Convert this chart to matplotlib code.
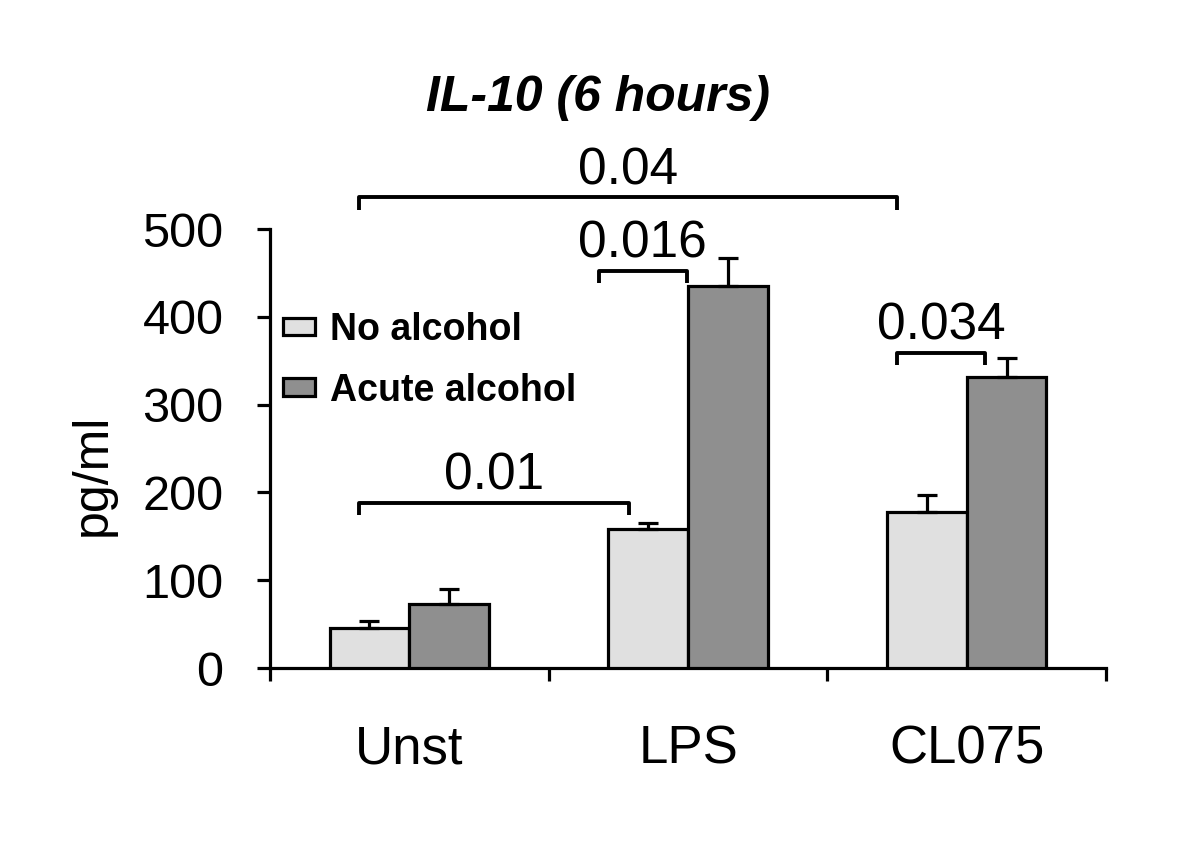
import numpy as np
import matplotlib.pyplot as plt
from matplotlib.patches import Patch

plt.rcParams["font.family"] = ["Liberation Sans", "DejaVu Sans"]

# ── Data ──────────────────────────────────────────────────────────────────────
categories = ["Unst", "LPS", "CL075"]
no_alcohol = [46, 158, 178]
no_alcohol_err = [8, 7, 19]
acute_alcohol = [73, 435, 331]
acute_alcohol_err = [17, 32, 22]

# significance brackets: (x start, x end, bracket top, label)
bracket_x0 = [-0.18, 0.68, 1.75, -0.18]
bracket_x1 = [1.75, 0.995, 2.065, 0.79]
bracket_y = [536, 452, 359, 188]
bracket_labels = ["0.04", "0.016", "0.034", "0.01"]

# ── Plot ──────────────────────────────────────────────────────────────────────
fig = plt.figure(figsize=(12, 8.58), dpi=100)
ax = fig.add_axes([0.225, 0.2214, 0.6967, 0.5117])

x = np.arange(len(categories))
w = 0.286
lw = 2.3
err_kw = dict(ecolor="black", elinewidth=lw, capthick=lw, capsize=7)

ax.bar(x - w / 2, no_alcohol, w, color="#e0e0e0", edgecolor="black",
       linewidth=lw, yerr=[np.zeros(3), no_alcohol_err], error_kw=err_kw,
       label="No alcohol", zorder=3)
ax.bar(x + w / 2, acute_alcohol, w, color="#8f8f8f", edgecolor="black",
       linewidth=lw, yerr=[np.zeros(3), acute_alcohol_err], error_kw=err_kw,
       label="Acute alcohol", zorder=3)

ax.set_xlim(-0.5, 2.5)
ax.set_ylim(0, 500)
ax.set_yticks(range(0, 501, 100))
ax.tick_params(axis="y", labelsize=35, width=lw, length=9.5, direction="out", pad=24)

ax.set_xticks(x)
ax.set_xticklabels(categories, fontsize=38)
ax.tick_params(axis="x", length=0, pad=41)
ax.set_xticks([-0.5, 0.5, 1.5, 2.5], minor=True)
ax.tick_params(axis="x", which="minor", width=lw, length=9.5, direction="out")

for side in ["top", "right"]:
    ax.spines[side].set_visible(False)
for side in ["left", "bottom"]:
    ax.spines[side].set_linewidth(lw)

ax.set_ylabel("pg/ml", fontsize=36)
ax.yaxis.set_label_coords(-0.184, 0.44)

# ── Brackets ──────────────────────────────────────────────────────────────────
drop = 14
for x0, x1, y, lab in zip(bracket_x0, bracket_x1, bracket_y, bracket_labels):
    ax.plot([x0, x0, x1, x1], [y - drop, y, y, y - drop], color="black",
            lw=lw + 0.5, solid_joinstyle="round", solid_capstyle="butt",
            clip_on=False, zorder=4)
    ax.text((x0 + x1) / 2, y + 15, lab, ha="center", va="baseline",
            fontsize=37, clip_on=False)

# ── Legend ────────────────────────────────────────────────────────────────────
handles = [Patch(facecolor="#e0e0e0", edgecolor="black", linewidth=lw),
           Patch(facecolor="#8f8f8f", edgecolor="black", linewidth=lw)]
leg = ax.legend(handles, ["No alcohol", "Acute alcohol"], loc="upper left",
                bbox_to_anchor=(-0.002, 0.845), frameon=False,
                prop=dict(size=27, weight="bold"), handlelength=0.85,
                handleheight=0.35, handletextpad=0.4, labelspacing=0.66,
                borderaxespad=0)

fig.text(0.498, 0.886, "IL-10 (6 hours)", ha="center", va="center",
         fontsize=36, fontweight="bold", fontstyle="italic")

fig.savefig("out.png", dpi=100)
